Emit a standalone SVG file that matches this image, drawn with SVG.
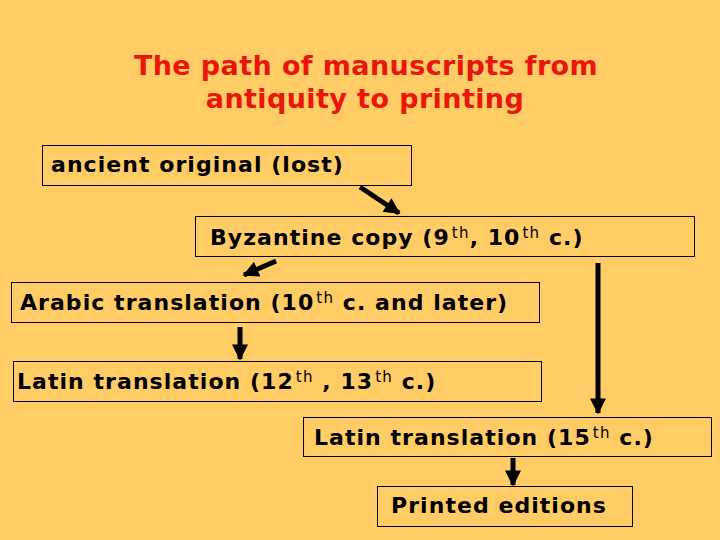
<svg xmlns="http://www.w3.org/2000/svg" width="720" height="540" viewBox="0 0 720 540">
<style>
.bg{fill:#FFCC66}
.box{fill:#FFCC66;stroke:#000;stroke-width:1}
.t{font-family:"DejaVu Sans",Verdana,sans-serif;font-weight:bold;font-size:22px;letter-spacing:1.05px;fill:#000}
.sup{font-size:15px;font-weight:normal;letter-spacing:1.2px}
.title{font-family:"DejaVu Sans",Verdana,sans-serif;font-weight:bold;font-size:27px;letter-spacing:0.4px;fill:#E8160C;text-anchor:middle}
.c{stroke:#000;stroke-width:5;fill:none}
</style>
<defs>
<marker id="ah" viewBox="0 0 10 10" refX="9" refY="5" markerWidth="3.6" markerHeight="3.2" orient="auto" markerUnits="strokeWidth">
<path d="M0,0 L10,5 L0,10 z" fill="#000"/>
</marker>
</defs>
<rect class="bg" x="0" y="0" width="720" height="540"/>
<g id="title">
<text class="title" x="366" y="75">The path of manuscripts from</text>
<text class="title" x="365" y="108">antiquity to printing</text>
</g>
<g id="connectors">
<line class="c" x1="360" y1="187" x2="399" y2="213" marker-end="url(#ah)"/>
<line class="c" x1="276" y1="261" x2="244" y2="275" marker-end="url(#ah)"/>
<line class="c" x1="240" y1="327" x2="240" y2="359" marker-end="url(#ah)"/>
<line class="c" x1="598" y1="263" x2="598" y2="413" marker-end="url(#ah)"/>
<line class="c" x1="513" y1="458" x2="513" y2="485" marker-end="url(#ah)"/>
</g>
<g id="n1">
<rect class="box" x="42.5" y="145.5" width="369" height="40"/>
<text class="t" x="51" y="172">ancient original (lost)</text>
</g>
<g id="n2">
<rect class="box" x="195.5" y="216.5" width="499" height="40"/>
<text class="t" x="210" y="245">Byzantine copy (9<tspan class="sup" dx="2" dy="-7">th</tspan><tspan dy="7">, 10</tspan><tspan class="sup" dx="2" dy="-7">th</tspan><tspan dy="7"> c.)</tspan></text>
</g>
<g id="n3">
<rect class="box" x="11.5" y="282.5" width="528" height="40"/>
<text class="t" x="20" y="310">Arabic translation (10<tspan class="sup" dx="2" dy="-7">th</tspan><tspan dy="7"> c. and later)</tspan></text>
</g>
<g id="n4">
<rect class="box" x="13.5" y="361.5" width="528" height="40"/>
<text class="t" x="17" y="389">Latin translation (12<tspan class="sup" dx="2" dy="-7">th</tspan><tspan dy="7"> , 13</tspan><tspan class="sup" dx="2" dy="-7">th</tspan><tspan dy="7"> c.)</tspan></text>
</g>
<g id="n5">
<rect class="box" x="303.5" y="417.5" width="408" height="39"/>
<text class="t" x="314" y="445">Latin translation (15<tspan class="sup" dx="2" dy="-7">th</tspan><tspan dy="7"> c.)</tspan></text>
</g>
<g id="n6">
<rect class="box" x="377.5" y="486.5" width="255" height="40"/>
<text class="t" x="391" y="513">Printed editions</text>
</g>
</svg>
